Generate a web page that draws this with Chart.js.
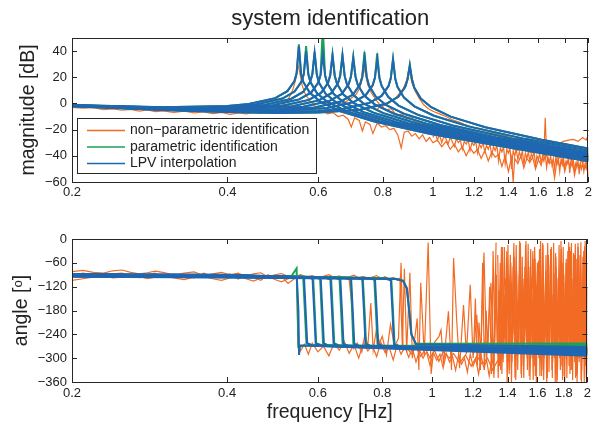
<!DOCTYPE html>
<html>
<head>
<meta charset="utf-8">
<script src="https://cdn.jsdelivr.net/npm/chart.js@4.4.1/dist/chart.umd.min.js"></script>
<style>
body { margin: 0; background: #fff; }
#wrap { position: relative; width: 595px; height: 424px; }
canvas { position: absolute; left: 0; }
#magCanvas { top: 0; }
#phaseCanvas { top: 200px; }
</style>
</head>
<body>
<div id="wrap">
<canvas id="magCanvas" width="595" height="200"></canvas>
<canvas id="phaseCanvas" width="595" height="224"></canvas>
</div>
<script>
// axis ticks
var freqTicks = [0.2, 0.4, 0.6, 0.8, 1, 1.2, 1.4, 1.6, 1.8, 2];
var magTicks = [-60, -40, -20, 0, 20, 40];
var phaseTicks = [-360, -300, -240, -180, -120, -60, 0];
var seriesNames = ['non\u2212parametric identification', 'parametric identification', 'LPV interpolation'];

// LPV interpolation, magnitude (one row per operating point)
var lpvMagFreq = [
    [0.2, 0.3, 0.4, 0.440, 0.495, 0.5225, 0.539, 0.5445, 0.550, 0.5555, 0.561, 0.5775, 0.605, 0.660, 0.770, 0.990, 2.0],
    [0.2, 0.3, 0.4, 0.4544, 0.5112, 0.5396, 0.5566, 0.5623, 0.568, 0.5737, 0.5794, 0.5964, 0.6248, 0.6816, 0.7952, 1.0224, 2.0],
    [0.2, 0.3, 0.4, 0.472, 0.531, 0.5605, 0.5782, 0.5841, 0.590, 0.5959, 0.6018, 0.6195, 0.649, 0.708, 0.826, 1.062, 2.0],
    [0.2, 0.3, 0.4, 0.4896, 0.5508, 0.5814, 0.5998, 0.6059, 0.612, 0.6181, 0.6242, 0.6426, 0.6732, 0.7344, 0.8568, 1.1016, 2.0],
    [0.2, 0.3, 0.4, 0.5112, 0.5751, 0.6071, 0.6262, 0.6326, 0.639, 0.6454, 0.6518, 0.6710, 0.7029, 0.7668, 0.8946, 1.1502, 2.0],
    [0.2, 0.3, 0.4, 0.5344, 0.6012, 0.6346, 0.6546, 0.6613, 0.668, 0.6747, 0.6814, 0.7014, 0.7348, 0.8016, 0.9352, 1.2024, 2.0],
    [0.2, 0.3, 0.4, 0.5, 0.5608, 0.6309, 0.6660, 0.6870, 0.6940, 0.701, 0.7080, 0.7150, 0.7361, 0.7711, 0.8412, 0.9814, 1.2618, 2.0],
    [0.2, 0.3, 0.4, 0.5, 0.5896, 0.6633, 0.7002, 0.7223, 0.7296, 0.737, 0.7444, 0.7517, 0.7739, 0.8107, 0.8844, 1.0318, 1.3266, 2.0],
    [0.2, 0.3, 0.4, 0.5, 0.624, 0.702, 0.741, 0.7644, 0.7722, 0.780, 0.7878, 0.7956, 0.819, 0.858, 0.936, 1.092, 1.404, 2.0],
    [0.2, 0.3, 0.4, 0.5, 0.6, 0.6696, 0.7533, 0.7952, 0.8203, 0.8286, 0.837, 0.8454, 0.8537, 0.8789, 0.9207, 1.0044, 1.1718, 1.5066, 2.0],
    [0.2, 0.3, 0.4, 0.5, 0.6, 0.7216, 0.8118, 0.8569, 0.8840, 0.8930, 0.902, 0.9110, 0.9200, 0.9471, 0.9922, 1.0824, 1.2628, 1.6236, 2.0]
];
var lpvMag = [
    [-1.27, -2.95, -1.98, -0.48, 4.05, 9.38, 16.94, 22.80, 43.8, 22.51, 16.41, 8.08, 1.44, -5.74, -13.86, -23.40, -44.24],
    [-1.35, -3.18, -2.57, -0.76, 3.77, 9.10, 16.66, 22.52, 40.0, 22.23, 16.13, 7.80, 1.16, -6.02, -14.14, -23.68, -43.64],
    [-1.44, -3.42, -3.17, -1.09, 3.44, 8.77, 16.33, 22.19, 38.7, 21.90, 15.80, 7.47, 0.83, -6.35, -14.47, -24.01, -42.92],
    [-1.52, -3.63, -3.68, -1.40, 3.13, 8.46, 16.02, 21.88, 37.4, 21.59, 15.49, 7.16, 0.52, -6.66, -14.78, -24.32, -42.22],
    [-1.60, -3.86, -4.20, -1.78, 2.75, 8.08, 15.64, 21.50, 36.7, 21.21, 15.11, 6.78, 0.14, -7.04, -15.16, -24.70, -41.39],
    [-1.68, -4.06, -4.66, -2.16, 2.37, 7.70, 15.26, 21.12, 36.7, 20.83, 14.73, 6.40, -0.24, -7.42, -15.54, -25.08, -40.52],
    [-1.76, -4.26, -5.10, -4.29, -2.58, 1.95, 7.28, 14.84, 20.70, 34.9, 20.41, 14.31, 5.98, -0.66, -7.84, -15.96, -25.50, -39.57],
    [-1.84, -4.45, -5.49, -5.10, -3.02, 1.51, 6.84, 14.40, 20.26, 34.9, 19.97, 13.87, 5.54, -1.10, -8.28, -16.40, -25.94, -38.57],
    [-1.91, -4.63, -5.87, -5.86, -3.51, 1.02, 6.35, 13.91, 19.77, 33.6, 19.48, 13.38, 5.05, -1.59, -8.77, -16.89, -26.43, -37.43],
    [-1.99, -4.83, -6.27, -6.63, -5.78, -4.12, 0.41, 5.74, 13.30, 19.16, 33.6, 18.87, 12.77, 4.44, -2.20, -9.38, -17.50, -27.04, -35.96],
    [-2.06, -5.00, -6.62, -7.27, -6.96, -4.77, -0.24, 5.09, 12.65, 18.51, 29.0, 18.22, 12.12, 3.79, -2.85, -10.03, -18.15, -27.69, -34.36]
];
// parametric identification: same curves, peak heights differ
var paramPeak = [45.2, 43.8, 39.5, 58, 37.5, 37.0, 35.5, 39.5, 38.2, 34.0, 29.5];

// LPV interpolation, phase
var lpvPhaseFreq = [
    [0.2, 0.4, 0.5335, 0.5462, 0.5500, 0.5515, 0.5539, 0.5665, 2.0],
    [0.2, 0.4, 0.5510, 0.5640, 0.5680, 0.5720, 0.5850, 2.0],
    [0.2, 0.4, 0.5723, 0.5859, 0.5900, 0.5941, 0.6077, 2.0],
    [0.2, 0.4, 0.5936, 0.6077, 0.6120, 0.6163, 0.6304, 2.0],
    [0.2, 0.4, 0.6198, 0.6345, 0.6390, 0.6435, 0.6582, 2.0],
    [0.2, 0.4, 0.6480, 0.6633, 0.6680, 0.6727, 0.6880, 2.0],
    [0.2, 0.4, 0.6800, 0.6961, 0.7010, 0.7059, 0.7220, 2.0],
    [0.2, 0.4, 0.7149, 0.7318, 0.7370, 0.7422, 0.7591, 2.0],
    [0.2, 0.4, 0.7566, 0.7745, 0.7800, 0.7855, 0.8034, 2.0],
    [0.2, 0.4, 0.8119, 0.8311, 0.8370, 0.8429, 0.8621, 2.0],
    [0.2, 0.4, 0.8500, 0.8780, 0.8930, 0.9020, 0.9110, 0.9300, 2.0]
];
var lpvPhase = [
    [-88, -90, -95, -99, -180, -292, -268, -268, -294],
    [-88.7, -90.7, -95.5, -99, -180, -262, -268, -291],
    [-89.4, -91.4, -96, -100, -180, -263, -268, -289],
    [-90.1, -92.1, -96.5, -100, -180, -263, -269, -287],
    [-90.8, -92.8, -97, -101, -180, -263, -269, -285],
    [-91.5, -93.5, -97.5, -101, -180, -264, -269, -283],
    [-92.2, -94.2, -98, -102, -180, -264, -270, -281],
    [-92.9, -94.9, -98.5, -102, -180, -264, -270, -279],
    [-93.6, -95.6, -99, -103, -180, -265, -270, -277],
    [-94.3, -96.3, -100, -104, -180, -265, -271, -275],
    [-95, -97, -101, -106, -125, -180, -240, -265, -272]
];

// parametric identification, phase
var paramPhaseFreq = [
    [0.2, 0.4, 0.5320, 0.5455, 0.5480, 0.5500, 0.5640, 2.0],
    [0.2, 0.4, 0.5490, 0.5620, 0.5660, 0.5700, 0.5830, 2.0],
    [0.2, 0.4, 0.5740, 0.5875, 0.5915, 0.5955, 0.6090, 2.0],
    [0.2, 0.4, 0.5920, 0.6060, 0.6100, 0.6140, 0.6280, 2.0],
    [0.2, 0.4, 0.6215, 0.6365, 0.6410, 0.6455, 0.6600, 2.0],
    [0.2, 0.4, 0.6460, 0.6610, 0.6655, 0.6700, 0.6855, 2.0],
    [0.2, 0.4, 0.6790, 0.6950, 0.6990, 0.7030, 0.7200, 2.0],
    [0.2, 0.4, 0.7165, 0.7335, 0.7390, 0.7440, 0.7610, 2.0],
    [0.2, 0.4, 0.7545, 0.7720, 0.7775, 0.7830, 0.8010, 2.0],
    [0.2, 0.4, 0.8140, 0.8330, 0.8390, 0.8450, 0.8640, 2.0],
    [0.2, 0.4, 0.8500, 0.8780, 0.8930, 0.9020, 0.9110, 0.9300, 2.0]
];
var paramPhase = [
    [-90, -92, -95, -74, -180, -272, -268, -289],
    [-90, -92, -95, -99, -180, -262, -267, -286],
    [-90, -92, -96, -100, -180, -263, -267, -284],
    [-90, -92, -96, -100, -180, -263, -268, -282],
    [-90, -92, -96, -100, -180, -263, -268, -280],
    [-90, -92, -97, -101, -180, -264, -268, -278],
    [-90, -92, -97, -101, -180, -264, -269, -276],
    [-90, -92, -98, -102, -180, -264, -269, -274],
    [-90, -92, -98, -102, -180, -264, -269, -270],
    [-90, -92, -99, -103, -180, -265, -270, -267],
    [-90, -92, -100, -105, -124, -180, -241, -264, -263]
];

// non-parametric identification, magnitude [Hz, dB]
var npMagA = [
    [0.20, -3.0], [0.21, -3.6], [0.22, -3.2], [0.23, -4.8], [0.24, -4.1], [0.25, -5.2], [0.26, -4.6], [0.27, -5.8],
    [0.28, -5.0], [0.29, -6.3], [0.30, -5.6], [0.315, -6.8], [0.33, -5.9], [0.345, -7.2], [0.36, -6.5], [0.375, -7.8],
    [0.39, -6.9], [0.405, -8.4], [0.42, -7.3], [0.435, -8.0], [0.45, -6.8], [0.465, -7.5], [0.48, -5.6], [0.495, -4.2],
    [0.51, -1.5], [0.525, 3.5], [0.535, 10], [0.542, 18], [0.547, 30], [0.552, 24], [0.558, 14], [0.566, 7], [0.58, 1],
    [0.595, -3], [0.61, -6], [0.625, -8], [0.64, -7], [0.655, -10], [0.67, -9], [0.685, -12], [0.695, -18], [0.705, -11],
    [0.72, -13], [0.73, -21], [0.74, -14], [0.755, -16], [0.765, -23], [0.78, -15], [0.795, -18], [0.81, -17], [0.825, -20],
    [0.84, -19], [0.855, -24], [0.868, -34], [0.88, -22], [0.895, -21], [0.91, -25], [0.925, -23], [0.94, -27], [0.955, -24],
    [0.97, -29], [0.985, -26], [1.0, -30], [1.02, -28], [1.04, -33], [1.06, -29], [1.08, -35], [1.10, -31], [1.12, -37],
    [1.14, -33], [1.16, -40], [1.18, -34], [1.20, -38], [1.22, -35], [1.24, -42], [1.26, -36], [1.28, -44], [1.30, -37],
    [1.32, -41], [1.34, -39], [1.36, -48], [1.38, -40], [1.40, -52], [1.42, -41], [1.43, -60], [1.44, -42], [1.46, -46],
    [1.48, -40], [1.50, -49], [1.52, -42], [1.54, -45], [1.56, -41], [1.58, -50], [1.60, -43], [1.62, -47], [1.64, -38],
    [1.65, -11], [1.66, -40], [1.68, -46], [1.70, -44], [1.72, -57], [1.74, -43], [1.76, -48], [1.78, -42], [1.80, -52],
    [1.82, -44], [1.84, -47], [1.86, -43], [1.88, -55], [1.90, -45], [1.92, -49], [1.94, -42], [1.96, -50], [1.98, -44], [2.0, -56]
];
var npMagB = [
    [0.78, -4], [0.82, 0], [0.85, 5], [0.875, 11], [0.89, 18], [0.897, 25], [0.903, 23], [0.91, 16], [0.925, 9], [0.94, 4],
    [0.96, -1], [0.98, -4], [1.0, -6], [1.03, -8], [1.06, -10], [1.09, -12.5], [1.12, -14], [1.15, -16], [1.19, -18],
    [1.23, -19.5], [1.27, -21], [1.31, -22.5], [1.35, -24], [1.39, -25], [1.43, -27], [1.47, -26.5], [1.51, -28.5],
    [1.55, -28], [1.59, -30], [1.63, -29], [1.67, -31], [1.71, -30], [1.75, -31], [1.79, -29], [1.83, -28], [1.87, -27.5],
    [1.91, -29], [1.95, -26], [1.98, -28], [2.0, -24]
];
var npMagC = [
    [0.62, -4], [0.66, -1], [0.69, 3], [0.71, 7], [0.722, 12], [0.731, 20], [0.736, 27], [0.741, 22], [0.748, 14], [0.76, 8],
    [0.775, 3], [0.79, -1], [0.81, -5], [0.83, -4], [0.85, -9], [0.87, -8], [0.89, -12], [0.91, -11], [0.93, -15], [0.95, -14],
    [0.97, -18], [1.0, -17], [1.03, -21], [1.06, -20], [1.1, -24], [1.14, -23], [1.18, -27], [1.22, -26], [1.26, -30], [1.3, -29],
    [1.35, -33], [1.4, -32], [1.45, -36], [1.5, -34], [1.55, -38], [1.6, -36], [1.65, -40], [1.7, -38], [1.75, -42], [1.8, -39],
    [1.85, -43], [1.9, -41], [1.95, -45], [2.0, -42]
];
var npMagDFreq = [1.00, 1.01, 1.02, 1.03, 1.04, 1.05, 1.06, 1.07, 1.08, 1.09, 1.10, 1.11, 1.12, 1.13, 1.14, 1.15,
    1.16, 1.17, 1.18, 1.19, 1.20, 1.21, 1.22, 1.23, 1.24, 1.25, 1.26, 1.27, 1.28, 1.29, 1.30, 1.31, 1.32, 1.33, 1.34,
    1.35, 1.36, 1.37, 1.38, 1.39, 1.40, 1.41, 1.42, 1.43, 1.44, 1.45, 1.46, 1.47, 1.48, 1.49, 1.50, 1.51, 1.52, 1.53,
    1.54, 1.55, 1.56, 1.57, 1.58, 1.59, 1.60, 1.61, 1.62, 1.63, 1.64, 1.65, 1.66, 1.67, 1.68, 1.69, 1.70, 1.71, 1.72,
    1.73, 1.74, 1.75, 1.76, 1.77, 1.78, 1.79, 1.80, 1.81, 1.82, 1.83, 1.84, 1.85, 1.86, 1.87, 1.88, 1.89, 1.90, 1.91,
    1.92, 1.93, 1.94, 1.95, 1.96, 1.97, 1.98, 1.99, 2.00];
var npMagD = [-26, -22, -28, -24, -30, -25, -27, -31, -26, -29, -33, -27, -30, -28, -35, -29,
    -31, -28, -36, -30, -32, -29, -38, -31, -34, -30, -37, -32, -35, -31, -40, -33, -36, -32, -44,
    -34, -37, -33, -46, -35, -38, -34, -50, -36, -40, -35, -43, -37, -41, -36, -47, -38, -42, -37,
    -44, -39, -41, -36, -48, -40, -43, -38, -46, -40, -44, -39, -49, -41, -45, -40, -47, -42, -50,
    -41, -46, -42, -52, -43, -47, -42, -49, -44, -46, -41, -53, -45, -48, -43, -51, -46, -49, -44,
    -54, -46, -50, -45, -52, -47, -50, -45, -58];

// non-parametric identification, phase [Hz, deg]
var npPhaseA = [
    [0.20, -82], [0.21, -79], [0.22, -84], [0.23, -86], [0.24, -80], [0.25, -78], [0.26, -84], [0.27, -88], [0.28, -85],
    [0.29, -81], [0.30, -84], [0.315, -90], [0.33, -86], [0.345, -83], [0.36, -92], [0.375, -88], [0.39, -84], [0.405, -90],
    [0.42, -86], [0.435, -94], [0.45, -88], [0.465, -85], [0.48, -96], [0.495, -90], [0.51, -87], [0.525, -94], [0.54, -92],
    [0.546, -100], [0.549, -268], [0.555, -282], [0.565, -265], [0.575, -290], [0.585, -262], [0.60, -284], [0.615, -270],
    [0.63, -294], [0.645, -263], [0.66, -280], [0.675, -258], [0.69, -288], [0.705, -266], [0.72, -300], [0.735, -262],
    [0.75, -282], [0.765, -268], [0.78, -296], [0.795, -260], [0.81, -286], [0.825, -272], [0.84, -305], [0.855, -266],
    [0.87, -290], [0.885, -270], [0.90, -298], [0.915, -275], [0.93, -310], [0.945, -280], [0.96, -300], [0.975, -284],
    [0.99, -318], [1.005, -286], [1.02, -305], [1.035, -290], [1.05, -325], [1.065, -288], [1.08, -310], [1.095, -296],
    [1.11, -330], [1.125, -292], [1.14, -315], [1.155, -300], [1.17, -335], [1.185, -290], [1.20, -320], [1.215, -302],
    [1.23, -340], [1.245, -296], [1.26, -325], [1.275, -305], [1.29, -345], [1.305, -300], [1.32, -330]
];
var npPhaseB = [
    [0.20, -104], [0.21, -100], [0.22, -96], [0.23, -92], [0.24, -98], [0.25, -96], [0.26, -90], [0.27, -94], [0.28, -100],
    [0.29, -96], [0.30, -92], [0.315, -98], [0.33, -102], [0.345, -96], [0.36, -94], [0.375, -100], [0.39, -104], [0.405, -98],
    [0.42, -94], [0.435, -100], [0.45, -106], [0.465, -98], [0.48, -94], [0.495, -102], [0.51, -108], [0.525, -100], [0.54, -96],
    [0.555, -90], [0.57, -96], [0.585, -92], [0.60, -98], [0.615, -94], [0.63, -90], [0.645, -97], [0.66, -93], [0.675, -99],
    [0.69, -95], [0.705, -91], [0.72, -98], [0.735, -94], [0.75, -100], [0.765, -96], [0.78, -92], [0.795, -99], [0.81, -95],
    [0.825, -101], [0.84, -97], [0.855, -104], [0.866, -98], [0.875, -270], [0.883, -75], [0.892, -285], [0.905, -85],
    [0.915, -300], [0.935, -200], [0.942, -330], [0.95, -110], [0.965, -295], [0.982, -9], [0.995, -340], [1.01, -260],
    [1.03, -246], [1.04, -229], [1.052, -316], [1.075, -182], [1.09, -330], [1.1, -48], [1.115, -201], [1.13, -325],
    [1.15, -166], [1.165, -290], [1.185, -115], [1.20, -300], [1.22, -191], [1.24, -330], [1.26, -34], [1.275, -300],
    [1.30, -110], [1.315, -340], [1.33, -9]
];
var npPhaseC = [
    [0.20, -92], [0.21, -86], [0.22, -90], [0.23, -95], [0.24, -88], [0.25, -86], [0.26, -92], [0.27, -97], [0.28, -90],
    [0.29, -86], [0.30, -96], [0.315, -88], [0.33, -92], [0.345, -98], [0.36, -86], [0.375, -94], [0.39, -97], [0.405, -88],
    [0.42, -101], [0.435, -92], [0.45, -96], [0.465, -104], [0.48, -90], [0.495, -98], [0.51, -94], [0.525, -112], [0.54, -100],
    [0.555, -92], [0.57, -98], [0.585, -94], [0.60, -100], [0.615, -96], [0.63, -102], [0.645, -95], [0.66, -99], [0.675, -97],
    [0.69, -103], [0.70, -180], [0.705, -275], [0.715, -262], [0.73, -285], [0.74, -240], [0.75, -270], [0.76, -161],
    [0.768, -280], [0.78, -225], [0.79, -262], [0.80, -245], [0.815, -292], [0.83, -215], [0.845, -270], [0.86, -250],
    [0.87, -60], [0.878, -280], [0.89, -268], [0.91, -290], [0.93, -272], [0.95, -296], [0.97, -276], [0.99, -300],
    [1.01, -280], [1.03, -308], [1.05, -284], [1.08, -300], [1.10, -288], [1.13, -312], [1.16, -292], [1.19, -320],
    [1.22, -295], [1.25, -315], [1.28, -300], [1.31, -330], [1.34, -305]
];
// dense part of the phase noise at high frequency
var denseFreqA = [1.34, 1.35, 1.36, 1.37, 1.38, 1.39, 1.40, 1.41, 1.42, 1.43, 1.44, 1.45, 1.46, 1.47, 1.48, 1.49,
    1.50, 1.51, 1.52, 1.53, 1.54, 1.55, 1.56, 1.57, 1.58, 1.59, 1.60, 1.61, 1.62, 1.63, 1.64, 1.65, 1.66, 1.67, 1.68,
    1.69, 1.70, 1.71, 1.72, 1.73, 1.74, 1.75, 1.76, 1.77, 1.78, 1.79, 1.80, 1.81, 1.82, 1.83, 1.84, 1.85, 1.86, 1.87,
    1.88, 1.89, 1.90, 1.91, 1.92, 1.93, 1.94, 1.95, 1.96, 1.97, 1.98, 1.99, 2.00];
var densePhaseA = [-40, -320, -120, -300, -20, -250, -90, -340, -60, -200, -10, -310, -150, -280, -30, -350,
    -100, -230, -5, -330, -70, -270, -140, -355, -20, -180, -60, -300, -110, -345, -15, -260, -80, -320, -40,
    -210, -120, -350, -10, -290, -70, -330, -160, -240, -25, -355, -90, -300, -50, -200, -8, -340, -130, -270,
    -35, -310, -100, -360, -20, -250, -75, -330, -45, -290, -5, -350, -120];
var denseFreqB = [1.345, 1.355, 1.365, 1.375, 1.385, 1.395, 1.405, 1.415, 1.425, 1.435, 1.445, 1.455, 1.465, 1.475,
    1.485, 1.495, 1.505, 1.515, 1.525, 1.535, 1.545, 1.555, 1.565, 1.575, 1.585, 1.595, 1.605, 1.615, 1.625, 1.635,
    1.645, 1.655, 1.665, 1.675, 1.685, 1.695, 1.705, 1.715, 1.725, 1.735, 1.745, 1.755, 1.765, 1.775, 1.785, 1.795,
    1.805, 1.815, 1.825, 1.835, 1.845, 1.855, 1.865, 1.875, 1.885, 1.895, 1.905, 1.915, 1.925, 1.935, 1.945, 1.955,
    1.965, 1.975, 1.985, 1.995];
var densePhaseB = [-300, -60, -340, -150, -280, -30, -310, -110, -360, -70, -240, -15, -330, -90, -290, -45,
    -350, -170, -260, -12, -320, -95, -230, -50, -345, -130, -280, -25, -310, -80, -355, -190, -270, -10, -335,
    -65, -250, -140, -300, -35, -360, -100, -285, -55, -320, -20, -240, -115, -350, -75, -295, -30, -330, -150,
    -265, -12, -345, -85, -300, -40, -355, -120, -275, -18, -320, -60];
var denseFreqC = [1.2025, 1.2125, 1.2225, 1.2325, 1.2425, 1.2525, 1.2625, 1.2725, 1.2825, 1.2925,
    1.3025, 1.3125, 1.3225, 1.3325, 1.3425, 1.3525, 1.3625, 1.3725, 1.3825, 1.3925,
    1.4025, 1.4125, 1.4225, 1.4325, 1.4425, 1.4525, 1.4625, 1.4725, 1.4825, 1.4925,
    1.5025, 1.5125, 1.5225, 1.5325, 1.5425, 1.5525, 1.5625, 1.5725, 1.5825, 1.5925,
    1.6025, 1.6125, 1.6225, 1.6325, 1.6425, 1.6525, 1.6625, 1.6725, 1.6825, 1.6925,
    1.7025, 1.7125, 1.7225, 1.7325, 1.7425, 1.7525, 1.7625, 1.7725, 1.7825, 1.7925,
    1.8025, 1.8125, 1.8225, 1.8325, 1.8425, 1.8525, 1.8625, 1.8725, 1.8825, 1.8925,
    1.9025, 1.9125, 1.9225, 1.9325, 1.9425, 1.9525, 1.9625, 1.9725, 1.9825, 1.9925];
var densePhaseC = [-290, -150, -320, -210, -300, -60, -330, -180, -280, -120,
    -340, -30, -260, -90, -350, -200, -20, -310, -140, -270,
    -15, -330, -110, -240, -45, -355, -170, -290, -10, -220,
    -320, -70, -260, -130, -345, -25, -300, -190, -50, -360,
    -100, -280, -5, -330, -160, -240, -40, -350, -120, -270,
    -20, -310, -85, -360, -140, -250, -15, -330, -200, -60,
    -345, -110, -290, -30, -320, -170, -10, -355, -90, -260,
    -50, -340, -130, -300, -8, -280, -180, -360, -70, -230];
var denseFreqD = [1.3075, 1.3175, 1.3275, 1.3375, 1.3475, 1.3575, 1.3675, 1.3775, 1.3875, 1.3975,
    1.4075, 1.4175, 1.4275, 1.4375, 1.4475, 1.4575, 1.4675, 1.4775, 1.4875, 1.4975,
    1.5075, 1.5175, 1.5275, 1.5375, 1.5475, 1.5575, 1.5675, 1.5775, 1.5875, 1.5975,
    1.6075, 1.6175, 1.6275, 1.6375, 1.6475, 1.6575, 1.6675, 1.6775, 1.6875, 1.6975,
    1.7075, 1.7175, 1.7275, 1.7375, 1.7475, 1.7575, 1.7675, 1.7775, 1.7875, 1.7975,
    1.8075, 1.8175, 1.8275, 1.8375, 1.8475, 1.8575, 1.8675, 1.8775, 1.8875, 1.8975,
    1.9075, 1.9175, 1.9275, 1.9375, 1.9475, 1.9575, 1.9675, 1.9775, 1.9875, 1.9975];
var densePhaseD = [-180, -350, -60, -290, -130, -330, -20, -250, -100, -360,
    -200, -40, -310, -150, -350, -80, -270, -5, -340, -120,
    -260, -15, -300, -90, -355, -190, -30, -320, -110, -280,
    -55, -345, -210, -10, -300, -140, -360, -75, -250, -25,
    -330, -160, -280, -45, -355, -95, -300, -5, -240, -130,
    -360, -60, -270, -150, -20, -330, -100, -290, -40, -350,
    -170, -10, -310, -80, -360, -220, -30, -280, -120, -340];


var fontFamily = '"Liberation Sans", Arial, Helvetica, sans-serif';
var textColor = '#222222';
var frameColor = '#262626';
var orangeColor = '#f26b25';
var greenColor = '#1ba257';
var blueColor = '#1f67b1';


function zipPoints(xs, ys) {
    var out = [];
    for (var i = 0; i < Math.min(xs.length, ys.length); i++) {
        out.push({ x: xs[i], y: ys[i] });
    }
    return out;
}

function pairPoints(arr) {
    return arr.map(function (p) { return { x: p[0], y: p[1] }; });
}

function lineSet(data, color, width, order) {
    return {
        data: data,
        borderColor: color,
        borderWidth: width,
        pointRadius: 0,
        fill: false,
        tension: 0,
        order: order
    };
}

function minusSign(v) {
    return String(v).replace('-', '\u2212');
}

function freqAxis(pad, height, title) {
    return {
        type: 'logarithmic',
        min: 0.2,
        max: 2,
        afterBuildTicks: function (axis) {
            axis.ticks = freqTicks.map(function (v) { return { value: v }; });
        },
        afterFit: function (axis) { axis.height = height; },
        grid: { display: false, drawTicks: false },
        border: { display: false },
        ticks: {
            autoSkip: false,
            maxRotation: 0,
            padding: pad,
            color: textColor,
            font: { size: 13, family: fontFamily },
            callback: function (v) { return String(v); }
        },
        title: title
    };
}

function valueAxis(min, max, tickList, labelOffset, labelText) {
    return {
        type: 'linear',
        min: min,
        max: max,
        afterBuildTicks: function (axis) {
            axis.ticks = tickList.map(function (v) { return { value: v }; });
        },
        afterFit: function (axis) { axis.width = 72; },
        grid: { display: false, drawTicks: false },
        border: { display: false },
        ticks: {
            padding: 5,
            color: textColor,
            font: { size: 13, family: fontFamily },
            callback: minusSign
        },
        title: {
            display: true,
            text: labelText,
            color: textColor,
            font: { size: 19.5, family: fontFamily },
            padding: { top: labelOffset, bottom: 0 }
        }
    };
}

// MATLAB style box with inward ticks
var framePlugin = {
    id: 'frame',
    afterDraw: function (chart) {
        let ctx = chart.ctx;
        let area = chart.chartArea;
        let xs = chart.scales.x;
        let ys = chart.scales.y;
        ctx.save();
        ctx.strokeStyle = frameColor;
        ctx.lineWidth = 1;
        ctx.beginPath();
        xs.ticks.forEach(function (t) {
            let px = Math.round(xs.getPixelForValue(t.value)) + 0.5;
            ctx.moveTo(px, area.bottom);
            ctx.lineTo(px, area.bottom - 5);
            ctx.moveTo(px, area.top);
            ctx.lineTo(px, area.top + 5);
        });
        ys.ticks.forEach(function (t) {
            let py = Math.round(ys.getPixelForValue(t.value)) + 0.5;
            ctx.moveTo(area.left, py);
            ctx.lineTo(area.left + 5, py);
            ctx.moveTo(area.right, py);
            ctx.lineTo(area.right - 5, py);
        });
        ctx.stroke();
        ctx.strokeRect(Math.round(area.left) + 0.5, Math.round(area.top) + 0.5,
            Math.round(area.right - area.left) - 1, Math.round(area.bottom - area.top));
        ctx.restore();
    }
};

// legend box inside the magnitude plot
var legendPlugin = {
    id: 'boxLegend',
    afterDraw: function (chart) {
        let ctx = chart.ctx;
        let colors = [orangeColor, greenColor, blueColor];
        let rows = [130.5, 147, 163.5];
        ctx.save();
        ctx.fillStyle = '#ffffff';
        ctx.fillRect(77, 118.5, 240, 55);
        ctx.strokeStyle = frameColor;
        ctx.lineWidth = 1;
        ctx.strokeRect(77.5, 118.5, 239, 55);
        ctx.font = '14px ' + fontFamily;
        ctx.textBaseline = 'middle';
        ctx.textAlign = 'left';
        for (let i = 0; i < seriesNames.length; i++) {
            ctx.strokeStyle = colors[i];
            ctx.lineWidth = 1.5;
            ctx.beginPath();
            ctx.moveTo(87, rows[i]);
            ctx.lineTo(125, rows[i]);
            ctx.stroke();
            ctx.fillStyle = textColor;
            ctx.fillText(seriesNames[i], 130, rows[i]);
        }
        ctx.restore();
    }
};


// magnitude datasets
let magSets = [];
[npMagA, npMagB, npMagC].forEach(function (arr) {
    magSets.push(lineSet(pairPoints(arr), orangeColor, 1.2, 2));
});
magSets.push(lineSet(zipPoints(npMagDFreq, npMagD), orangeColor, 1.2, 2));
for (let k = 0; k < lpvMag.length; k++) {
    let row = lpvMag[k].slice();
    let peakIdx = row.indexOf(Math.max.apply(null, row));
    row[peakIdx] = paramPeak[k];
    magSets.push(lineSet(zipPoints(lpvMagFreq[k], row), greenColor, 2, 1));
}
for (let k = 0; k < lpvMag.length; k++) {
    magSets.push(lineSet(zipPoints(lpvMagFreq[k], lpvMag[k]), blueColor, 2, 0));
}

// phase datasets
let phaseSets = [];
[npPhaseA, npPhaseB, npPhaseC].forEach(function (arr) {
    phaseSets.push(lineSet(pairPoints(arr), orangeColor, 1.2, 2));
});
phaseSets.push(lineSet(zipPoints(denseFreqA, densePhaseA), orangeColor, 1.2, 2));
phaseSets.push(lineSet(zipPoints(denseFreqB, densePhaseB), orangeColor, 1.2, 2));
phaseSets.push(lineSet(zipPoints(denseFreqC, densePhaseC), orangeColor, 1.2, 2));
phaseSets.push(lineSet(zipPoints(denseFreqD, densePhaseD), orangeColor, 1.2, 2));
for (let k = 0; k < paramPhase.length; k++) {
    phaseSets.push(lineSet(zipPoints(paramPhaseFreq[k], paramPhase[k]), greenColor, 2, 1));
}
for (let k = 0; k < lpvPhase.length; k++) {
    phaseSets.push(lineSet(zipPoints(lpvPhaseFreq[k], lpvPhase[k]), blueColor, 2, 0));
}


let magChart = new Chart(document.getElementById('magCanvas'), {
    type: 'line',
    data: { datasets: magSets },
    options: {
        responsive: false,
        animation: false,
        devicePixelRatio: 1,
        events: [],
        layout: { padding: { left: 0, right: 3.5, top: 0, bottom: 0 } },
        scales: {
            x: freqAxis(3, 18, { display: false }),
            y: valueAxis(-60, 50, magTicks, 17, 'magnitude [dB]')
        },
        plugins: {
            legend: { display: false },
            tooltip: { enabled: false },
            title: {
                display: true,
                fullSize: false,
                text: 'system identification',
                color: textColor,
                font: { size: 22, family: fontFamily, weight: 'normal' },
                padding: { top: 6, bottom: 5.6 }
            }
        }
    },
    plugins: [framePlugin, legendPlugin]
});

let phaseChart = new Chart(document.getElementById('phaseCanvas'), {
    type: 'line',
    data: { datasets: phaseSets },
    options: {
        responsive: false,
        animation: false,
        devicePixelRatio: 1,
        events: [],
        layout: { padding: { left: 0, right: 3.5, top: 39, bottom: 0 } },
        scales: {
            x: freqAxis(4, 42, {
                display: true,
                text: 'frequency [Hz]',
                color: textColor,
                font: { size: 19.5, family: fontFamily },
                padding: { top: 0, bottom: 0 }
            }),
            y: valueAxis(-360, 0, phaseTicks, 9.5, 'angle [\u1d52]')
        },
        plugins: {
            legend: { display: false },
            tooltip: { enabled: false }
        }
    },
    plugins: [framePlugin]
});
</script>
</body>
</html>
